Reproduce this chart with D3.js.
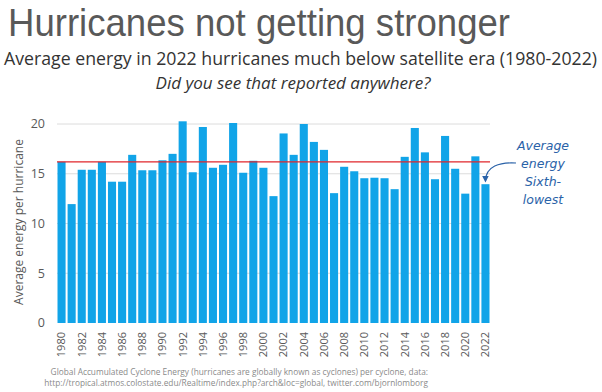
<!DOCTYPE html>
<html>
<head>
<meta charset="utf-8">
<script src="https://cdn.jsdelivr.net/npm/d3@7"></script>
<style>
  body { margin: 0; background: #fff; }
  svg { display: block; }
</style>
</head>
<body>
<div id="chart"></div>
<script>
// values
const years = d3.range(1980, 2023);
const energy = [
  16.2, 11.95, 15.4, 15.4, 16.2, 14.2, 14.2, 16.9, 15.35, 15.35,
  16.35, 17.0, 20.27, 15.15, 19.7, 15.6, 15.9, 20.1, 15.1, 16.3,
  15.6, 12.75, 19.05, 16.9, 20.0, 18.2, 17.4, 13.05, 15.7, 15.25,
  14.55, 14.6, 14.55, 13.45, 16.7, 19.6, 17.15, 14.45, 18.8, 15.5,
  13.0, 16.75, 13.95
];
const averageLine = 16.2;
const yTicks = [0, 5, 10, 15, 20];
const tickYears = d3.range(1980, 2023, 2);
const noteLines = ['Average', 'energy', 'Sixth-', 'lowest'];

const width = 602, height = 392;
const margin = { left: 57, right: 112, top: 120, bottom: 69 };

const svg = d3.select('#chart').append('svg')
  .attr('width', width)
  .attr('height', height);

const x = d3.scaleBand()
  .domain(years)
  .range([margin.left, width - margin.right])
  .paddingInner(0.2)
  .paddingOuter(0.05);

const y = d3.scaleLinear()
  .domain([0, 20])
  .range([height - margin.bottom, 124]);

// gridlines
svg.append('g')
  .selectAll('line')
  .data(yTicks.slice(1))
  .join('line')
  .attr('x1', margin.left)
  .attr('x2', width - margin.right)
  .attr('y1', d => y(d))
  .attr('y2', d => y(d))
  .attr('stroke', '#dcdcdc')
  .attr('stroke-width', 1);

// y tick labels
svg.append('g')
  .selectAll('text')
  .data(yTicks)
  .join('text')
  .attr('x', 45)
  .attr('y', d => y(d))
  .attr('dy', '0.35em')
  .attr('text-anchor', 'end')
  .attr('font-family', 'Open Sans, sans-serif')
  .attr('font-size', 12.5)
  .attr('fill', '#595959')
  .text(d => d);

// bars
svg.append('g')
  .selectAll('rect')
  .data(years)
  .join('rect')
  .attr('x', d => x(d))
  .attr('width', x.bandwidth())
  .attr('y', (d, i) => y(energy[i]))
  .attr('height', (d, i) => y(0) - y(energy[i]))
  .attr('fill', '#11a4e8');

// average line
svg.append('line')
  .attr('x1', margin.left)
  .attr('x2', width - margin.right)
  .attr('y1', y(averageLine))
  .attr('y2', y(averageLine))
  .attr('stroke', '#e0262b')
  .attr('stroke-width', 1.3);

// x tick labels
svg.append('g')
  .selectAll('text')
  .data(tickYears)
  .join('text')
  .attr('transform', d => `translate(${x(d) + x.bandwidth() / 2},332) rotate(-90)`)
  .attr('dy', '0.35em')
  .attr('text-anchor', 'end')
  .attr('font-family', 'Open Sans, sans-serif')
  .attr('font-size', 11)
  .attr('fill', '#595959')
  .text(d => d);

// y axis title
svg.append('text')
  .attr('transform', 'translate(19,222) rotate(-90)')
  .attr('text-anchor', 'middle')
  .attr('dy', '0.35em')
  .attr('font-family', 'Open Sans, sans-serif')
  .attr('font-size', 12)
  .attr('fill', '#595959')
  .text('Average energy per hurricane');

// titles
svg.append('text')
  .attr('x', 8).attr('y', 35.5)
  .attr('font-family', 'Liberation Sans, Arial, sans-serif')
  .attr('font-size', 39)
  .attr('fill', '#595959')
  .attr('textLength', 502)
  .attr('lengthAdjust', 'spacingAndGlyphs')
  .text('Hurricanes not getting stronger');

svg.append('text')
  .attr('x', 4).attr('y', 65)
  .attr('font-family', 'Open Sans, sans-serif')
  .attr('font-size', 17.5)
  .attr('fill', '#333')
  .attr('textLength', 593)
  .attr('lengthAdjust', 'spacingAndGlyphs')
  .text('Average energy in 2022 hurricanes much below satellite era (1980-2022)');

svg.append('text')
  .attr('x', 293).attr('y', 89)
  .attr('text-anchor', 'middle')
  .attr('font-family', 'Open Sans, sans-serif')
  .attr('font-style', 'italic')
  .attr('font-size', 17)
  .attr('fill', '#333')
  .text('Did you see that reported anywhere?');

// source note
const src = svg.append('text')
  .attr('text-anchor', 'end')
  .attr('font-family', 'Open Sans, sans-serif')
  .attr('font-size', 8.3)
  .attr('fill', '#8a8a8a');
src.append('tspan').attr('x', 428).attr('y', 375)
  .text('Global Accumulated Cyclone Energy (hurricanes are globally known as cyclones) per cyclone, data:');
src.append('tspan').attr('x', 428).attr('y', 386)
  .text('http://tropical.atmos.colostate.edu/Realtime/index.php?arch&loc=global, twitter.com/bjornlomborg');

// handwritten note
const noteColor = '#2a62a8';
svg.append('g')
  .selectAll('text')
  .data(noteLines)
  .join('text')
  .attr('x', 543)
  .attr('y', (d, i) => 150 + i * 18)
  .attr('text-anchor', 'middle')
  .attr('font-family', 'DejaVu Sans, sans-serif')
  .attr('font-style', 'italic')
  .attr('font-size', 12.5)
  .attr('fill', noteColor)
  .text(d => d);

const last = years[years.length - 1];
const tipX = x(last) + x.bandwidth() / 2;
const tipY = y(energy[energy.length - 1]) - 3;
svg.append('defs').append('marker')
  .attr('id', 'arrow')
  .attr('viewBox', '0 0 10 10')
  .attr('refX', 8).attr('refY', 5)
  .attr('markerWidth', 6).attr('markerHeight', 6)
  .attr('orient', 'auto')
  .append('path')
  .attr('d', 'M0,0 L10,5 L0,10 z')
  .attr('fill', noteColor);

svg.append('path')
  .attr('d', `M516,163 C500,162 ${tipX},166 ${tipX},${tipY}`)
  .attr('fill', 'none')
  .attr('stroke', noteColor)
  .attr('stroke-width', 1.1)
  .attr('marker-end', 'url(#arrow)');
</script>
</body>
</html>
